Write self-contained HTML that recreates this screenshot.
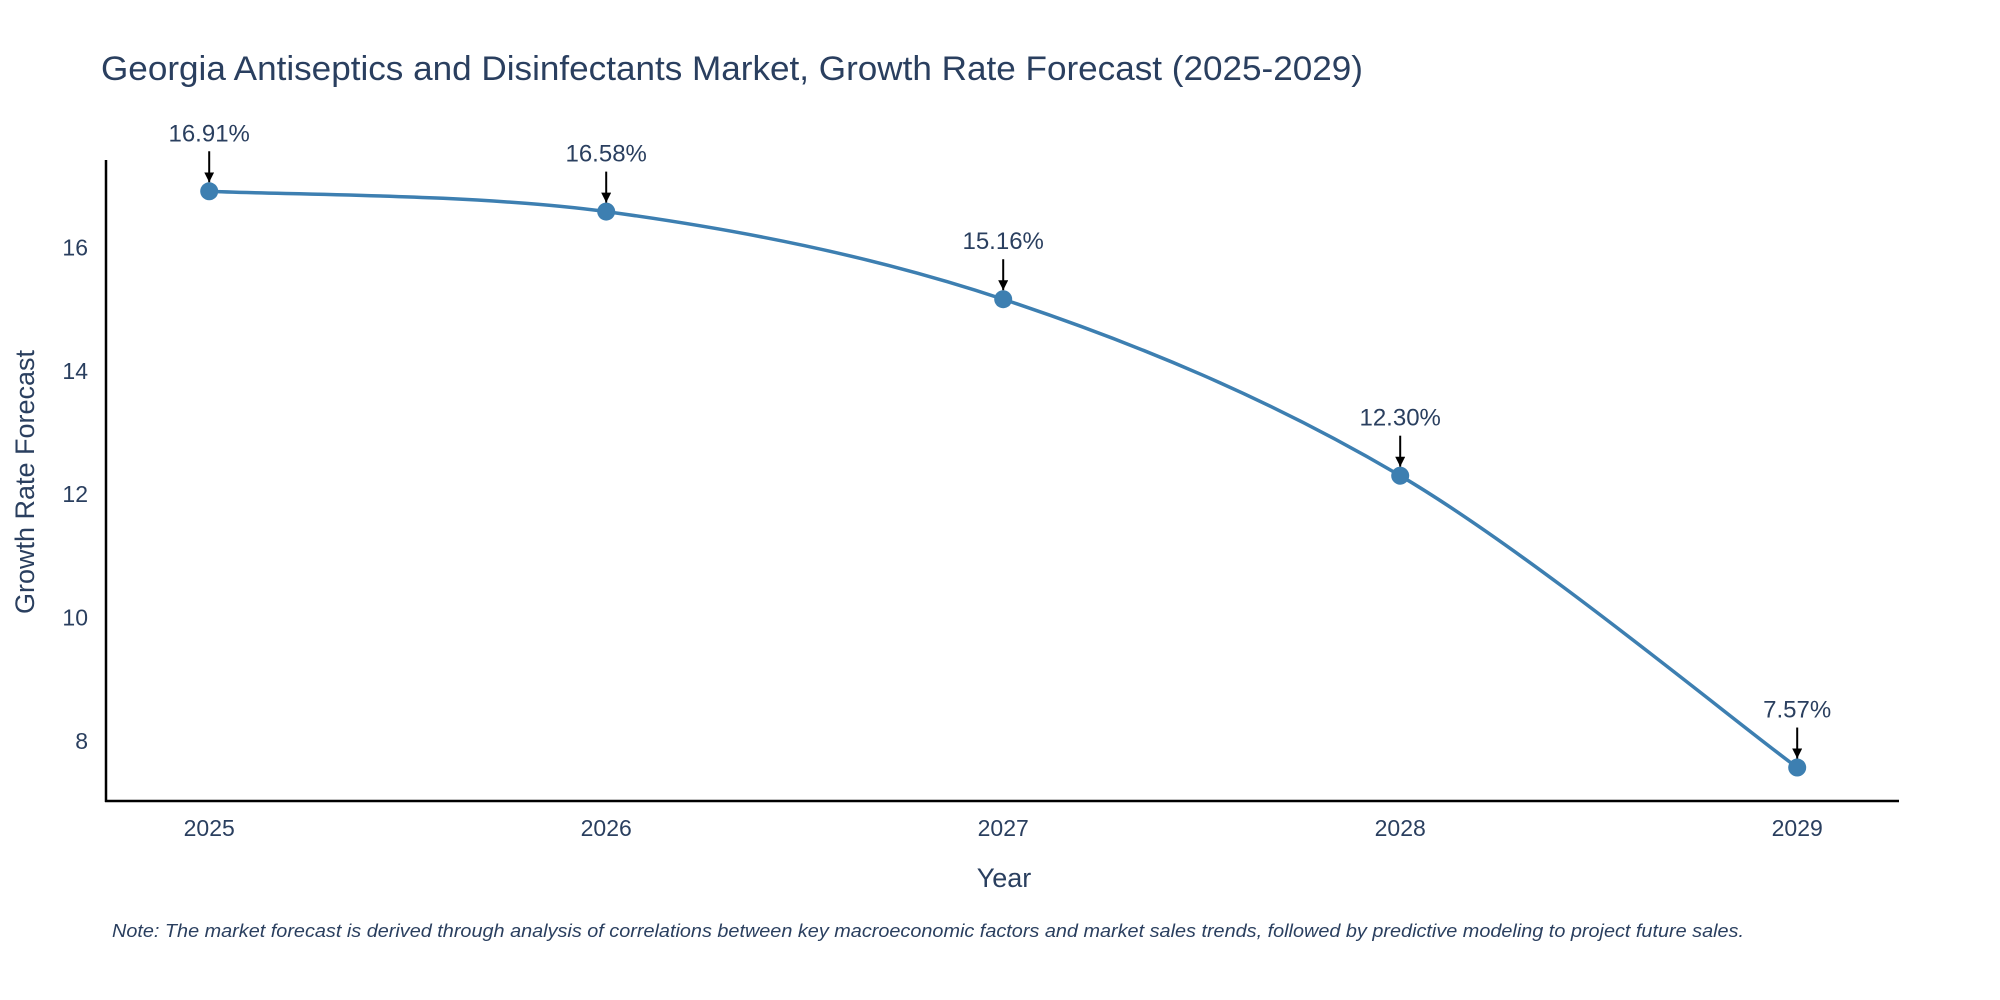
<!DOCTYPE html>
<html><head><meta charset="utf-8"><style>
html,body{margin:0;padding:0;background:#fff;}
svg{display:block;font-family:"Liberation Sans","DejaVu Sans",sans-serif;}
</style></head><body>
<svg id="chart" width="2000" height="1000" viewBox="0 0 2000 1000" xmlns="http://www.w3.org/2000/svg">
<defs><marker id="arr" viewBox="0 0 10 10" refX="10" refY="5" markerWidth="5" markerHeight="5" orient="auto"><path d="M0,0 L10,5 L0,10 z" fill="#000"/></marker></defs>
<text x="101" y="80" font-size="34" fill="#2a3f5f" textLength="1262" lengthAdjust="spacingAndGlyphs">Georgia Antiseptics and Disinfectants Market, Growth Rate Forecast (2025-2029)</text>
<g id="plot"></g>
<line x1="106" y1="160" x2="106" y2="802" stroke="#000" stroke-width="2.5"/>
<line x1="105" y1="801" x2="1899" y2="801" stroke="#000" stroke-width="2.5"/>
<text transform="translate(34,482) rotate(-90)" text-anchor="middle" font-size="27" fill="#2a3f5f">Growth Rate Forecast</text>
<text x="1004" y="887" text-anchor="middle" font-size="27" fill="#2a3f5f">Year</text>
<text x="112" y="937" font-size="18" font-style="italic" fill="#2a3f5f" textLength="1632" lengthAdjust="spacingAndGlyphs">Note: The market forecast is derived through analysis of correlations between key macroeconomic factors and market sales trends, followed by predictive modeling to project future sales.</text>
</svg>
<script>
const years = [2025, 2026, 2027, 2028, 2029];
const growth = [16.91, 16.58, 15.16, 12.30, 7.57];
const labels = ["16.91%", "16.58%", "15.16%", "12.30%", "7.57%"];
const yTicks = [8, 10, 12, 14, 16];

const NS = "http://www.w3.org/2000/svg";
const g = document.getElementById("plot");
function xs(v){ return 209.2 + (v - 2025) * 397.0; }
function ys(v){ return 247.4 + (16 - v) * 61.7; }
function mk(tag, attrs){ const e = document.createElementNS(NS, tag); for (const k in attrs) e.setAttribute(k, attrs[k]); g.appendChild(e); return e; }

yTicks.forEach(t => {
  const e = mk("text", {x: 88, y: ys(t) + 8, "text-anchor": "end", "font-size": "23", fill: "#2a3f5f"});
  e.textContent = t;
  
  
});
years.forEach(y => {
  const e = mk("text", {x: xs(y), y: 836, "text-anchor": "middle", "font-size": "23", fill: "#2a3f5f"});
  e.textContent = y;
  
  
});

const pts = years.map((y, i) => [xs(y), ys(growth[i])]);
let d = "M" + pts[0][0] + "," + pts[0][1];
for (let i = 0; i < pts.length - 1; i++) {
  const p0 = pts[Math.max(0, i - 1)], p1 = pts[i], p2 = pts[i + 1], p3 = pts[Math.min(pts.length - 1, i + 2)];
  const c1 = [p1[0] + (p2[0] - p0[0]) / 6, p1[1] + (p2[1] - p0[1]) / 6];
  const c2 = [p2[0] - (p3[0] - p1[0]) / 6, p2[1] - (p3[1] - p1[1]) / 6];
  d += " C" + c1 + " " + c2 + " " + p2;
}
const line = mk("path", {d: d, fill: "none", stroke: "#3d7fb1", "stroke-width": "3.5"});



pts.forEach((p, i) => {
  const c = mk("circle", {cx: p[0], cy: p[1], r: 9, fill: "#3d7fb1"});
  
  
  const a = mk("line", {x1: p[0], y1: p[1] - 40, x2: p[0], y2: p[1] - 9, stroke: "#000", "stroke-width": "2", "marker-end": "url(#arr)"});
  
  
  const t = mk("text", {x: p[0], y: p[1] - 50, "text-anchor": "middle", "font-size": "24", fill: "#2a3f5f"});
  t.textContent = labels[i];
  
  
});
</script>
</body></html>
